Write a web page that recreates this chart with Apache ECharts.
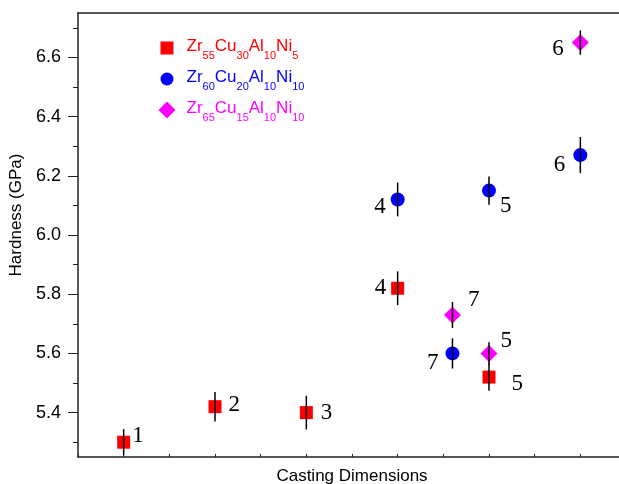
<!DOCTYPE html>
<html>
<head>
<meta charset="utf-8">
<script src="https://cdn.jsdelivr.net/npm/echarts@6/dist/echarts.min.js"></script>
<style>
  html, body { margin: 0; padding: 0; background: #fff; }
  .wrapper { width: 619px; height: 484px; }
</style>
</head>
<body>
<div class="wrapper"></div>
<script>
// series names (digits become subscripts in the legend)
var seriesNames = ['Zr55Cu30Al10Ni5', 'Zr60Cu20Al10Ni10', 'Zr65Cu15Al10Ni10'];

// Zr55Cu30Al10Ni5
var redX = [1, 2, 3, 4, 5];
var redY = [5.30, 5.42, 5.40, 5.82, 5.52];
var redErr = [0.044, 0.050, 0.057, 0.057, 0.046];
var redTags = ['1', '2', '3', '4', '5'];

// Zr60Cu20Al10Ni10
var blueX = [4, 4.6, 5, 6];
var blueY = [6.12, 5.60, 6.15, 6.27];
var blueErr = [0.057, 0.051, 0.048, 0.061];
var blueTags = ['4', '7', '5', '6'];

// Zr65Cu15Al10Ni10
var pinkX = [4.6, 5, 6];
var pinkY = [5.73, 5.60, 6.65];
var pinkErr = [0.044, 0.038, 0.041];
var pinkTags = ['7', '5', '6'];

var yMajorTicks = [5.4, 5.6, 5.8, 6.0, 6.2, 6.4, 6.6];
var yMinorTicks = [5.3, 5.5, 5.7, 5.9, 6.1, 6.3, 6.5, 6.7];

// label placement per point: [side, gap, dy]
var redPlace = [['right', 2, -6], ['right', 7, -2], ['right', 8, 0], ['left', 5, 0], ['right', 16, 7]];
var bluePlace = [['left', 5, 7], ['left', 7, 10], ['right', 4, 15], ['left', 8, 10]];
var pinkPlace = [['right', 7, -15], ['right', 3, -12], ['left', 8, 6]];

var sans = 'Liberation Sans, Arial, sans-serif';
var serif = 'Liberation Serif, Times New Roman, serif';

function points(xs, ys, tags, place) {
    return xs.map(function (x, i) {
        return {
            name: tags[i],
            value: [x, ys[i]],
            label: {
                position: place[i][0],
                distance: place[i][1],
                offset: [0, place[i][2]]
            }
        };
    });
}

function bars(xs, ys, err) {
    return xs.map(function (x, i) {
        return [x, ys[i] - err[i], ys[i] + err[i]];
    });
}

function errorSeries(data) {
    return {
        type: 'custom',
        silent: true,
        z: 5,
        encode: { x: 0, y: [1, 2] },
        data: data,
        renderItem: function (params, api) {
            var lo = api.coord([api.value(0), api.value(1)]);
            var hi = api.coord([api.value(0), api.value(2)]);
            return {
                type: 'line',
                shape: { x1: lo[0], y1: lo[1], x2: hi[0], y2: hi[1] },
                style: { stroke: '#000', lineWidth: 1.5 }
            };
        }
    };
}

function legendFor(name, icon, color, size, top, pad) {
    return {
        data: [{ name: name, icon: icon }],
        left: 167 - size / 2,
        top: top,
        padding: 0,
        itemWidth: size,
        itemHeight: size,
        selectedMode: false,
        formatter: function (n) {
            return n.replace(/([A-Za-z]+)(\d+)/g, '{m|$1}{s|$2}');
        },
        textStyle: {
            padding: [0, 0, 0, pad],
            rich: {
                m: { fontSize: 17, fontFamily: sans, color: color, lineHeight: 20, verticalAlign: 'top' },
                s: { fontSize: 11, fontFamily: sans, color: color, lineHeight: 11, padding: [12, 0, 0, 0], verticalAlign: 'top' }
            }
        }
    };
}

var myChart = echarts.init(document.querySelector('.wrapper'));

var labelStyle = {
    show: true,
    formatter: '{b}',
    color: '#000',
    fontFamily: serif,
    fontSize: 23
};

var option = {
    backgroundColor: '#fff',
    animation: false,
    grid: { left: 78, top: 13, bottom: 27, width: 548, outerBoundsMode: 'none' },
    legend: [
        legendFor(seriesNames[0], 'rect', '#ff0000', 13, 38, 8),
        legendFor(seriesNames[1], 'circle', '#0000ff', 13, 69, 8),
        legendFor(seriesNames[2], 'diamond', '#ff00ff', 17, 100, 6)
    ],
    xAxis: [{
        type: 'value',
        min: 0.5,
        max: 6.5,
        interval: 0.5,
        name: 'Casting Dimensions',
        nameLocation: 'middle',
        nameGap: 11,
        nameTextStyle: { fontFamily: sans, fontSize: 17, color: '#000' },
        axisLine: { show: true, lineStyle: { color: '#222', width: 1.5 } },
        axisTick: { show: true, inside: true, length: 3, lineStyle: { color: '#222' } },
        axisLabel: { show: false },
        splitLine: { show: false }
    }, {
        type: 'value',
        position: 'top',
        min: 0.5,
        max: 6.5,
        axisLine: { show: true, onZero: false, lineStyle: { color: '#222', width: 1.5 } },
        axisTick: { show: false },
        axisLabel: { show: false },
        splitLine: { show: false }
    }],
    yAxis: [{
        type: 'value',
        min: 5.25,
        max: 6.75,
        name: 'Hardness (GPa)',
        nameLocation: 'middle',
        nameGap: 50,
        nameTextStyle: { fontFamily: sans, fontSize: 17, color: '#000', padding: [0, 0, 0, 40] },
        axisLine: { show: true, lineStyle: { color: '#222', width: 1.5 } },
        axisTick: { show: true, length: 10, customValues: yMajorTicks, lineStyle: { color: '#222' } },
        axisLabel: {
            customValues: yMajorTicks,
            margin: 17,
            fontFamily: sans,
            fontSize: 18,
            color: '#000',
            formatter: function (v) { return v.toFixed(1); }
        },
        splitLine: { show: false }
    }, {
        type: 'value',
        position: 'left',
        min: 5.25,
        max: 6.75,
        axisLine: { show: false },
        axisTick: { show: true, length: 5, customValues: yMinorTicks, lineStyle: { color: '#222' } },
        axisLabel: { show: false },
        splitLine: { show: false }
    }],
    series: [{
        name: seriesNames[0],
        type: 'scatter',
        symbol: 'rect',
        symbolSize: 13,
        itemStyle: { color: '#ff0000', opacity: 1 },
        label: labelStyle,
        data: points(redX, redY, redTags, redPlace)
    }, {
        name: seriesNames[1],
        type: 'scatter',
        symbol: 'circle',
        symbolSize: 14,
        itemStyle: { color: '#0000ff', opacity: 1 },
        label: labelStyle,
        data: points(blueX, blueY, blueTags, bluePlace)
    }, {
        name: seriesNames[2],
        type: 'scatter',
        symbol: 'diamond',
        symbolSize: 17,
        itemStyle: { color: '#ff00ff', opacity: 1 },
        label: labelStyle,
        data: points(pinkX, pinkY, pinkTags, pinkPlace)
    },
    errorSeries(bars(redX, redY, redErr)),
    errorSeries(bars(blueX, blueY, blueErr)),
    errorSeries(bars(pinkX, pinkY, pinkErr))]
};

myChart.setOption(option);
</script>
</body>
</html>
